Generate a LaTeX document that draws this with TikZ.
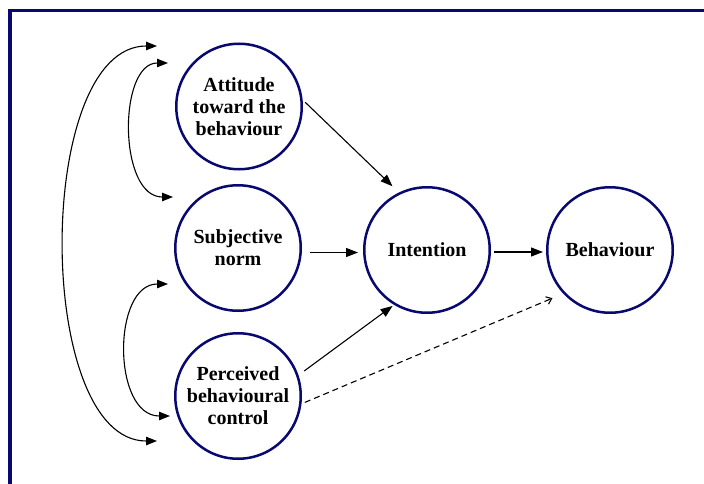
\documentclass[tikz,border=0pt]{standalone}
\usepackage{fontspec}
\setmainfont{Liberation Serif}
\usetikzlibrary{arrows.meta,calc}
\definecolor{navyc}{RGB}{8,8,112}
\begin{document}
\begin{tikzpicture}[x=1pt,y=1pt,
  circ/.style={circle,draw=navyc,line width=2.5pt,minimum size=125.5pt,inner sep=0pt,
     align=center,font=\fontsize{20}{22}\selectfont\bfseries},
  arr/.style={-{Triangle[length=12pt,width=9pt]},line width=1.1pt},
  darr/.style={{Triangle[length=11pt,width=8.5pt]}-{Triangle[length=11pt,width=8.5pt]},line width=1.1pt},
  dasharr/.style={-{Straight Barb[length=5pt,width=8pt]},line width=1.1pt,dash pattern=on 6pt off 4pt}]
\useasboundingbox (0,0) rectangle (704,-484);
\draw[navyc,line width=3.5pt] (704,-10.5) -- (10,-10.5) -- (10,-484);
\node[circ] (att) at (239,-106.5) {Attitude\\toward the\\behaviour};
\node[circ] (subj) at (238,-248) {Subjective\\norm};
\node[circ] (perc) at (238,-396) {Perceived\\behavioural\\control};
\node[circ] (int) at (427,-250) {Intention};
\node[circ] (beh) at (610,-250) {Behaviour};
% straight connectors
\draw[arr,shorten <=3.4pt,shorten >=9pt] (att.6) -- (int.116);
\draw[arr] ([shift={(8pt,-4.5pt)}]subj.east) -- ([shift={(-5pt,-2.5pt)}]int.west);
\draw[arr,shorten <=7pt,shorten >=1.8pt] (perc.19.7) -- (int.239.6);
\draw[arr] ([shift={(3pt,-2pt)}]int.east) -- ([shift={(-3pt,-2pt)}]beh.west);
\draw[dasharr,shorten <=3.6pt,shorten >=11.7pt] (perc.-7.7) -- (beh.223.4);
% curved correlations
\coordinate (c1a) at ($(att.center)+(-71,43.5)$);
\coordinate (c1b) at ($(subj.center)+(-65,51)$);
\coordinate (c2a) at ($(subj.center)+(-70,-36)$);
\coordinate (c2b) at ($(perc.center)+(-68,-20)$);
\coordinate (c3a) at ($(att.center)+(-82,60.5)$);
\coordinate (c3b) at ($(perc.center)+(-81,-45)$);
\draw[darr] (c1a) .. controls +(-50,0) and +(-55,0) .. (c1b);
\draw[darr] (c2a) .. controls +(-56,0) and +(-58,0) .. (c2b);
\draw[darr] (c3a) .. controls +(-123,0) and +(-123,0) .. (c3b);
\end{tikzpicture}
\end{document}
